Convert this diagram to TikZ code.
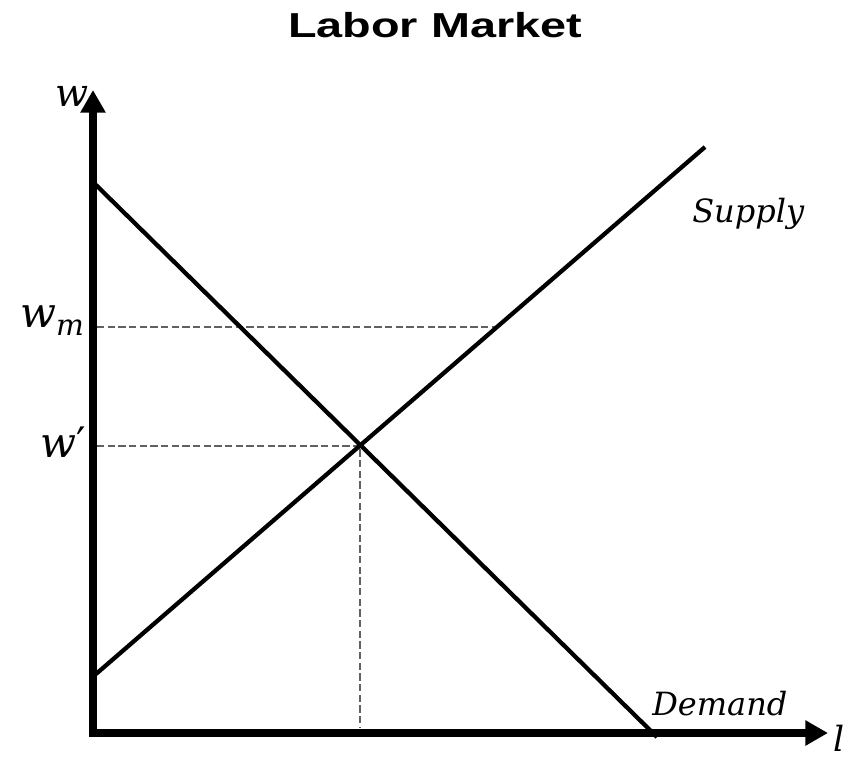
\documentclass[tikz,border=0pt]{standalone}
\usepackage{fontspec}
\usetikzlibrary{arrows.meta}
\newfontfamily\titlefont{Liberation Sans}
\newfontfamily\labelfont{DejaVu Serif}

\tikzset{
  axis/.style={line width=6pt, line join=miter, {Triangle[length=17pt,width=18pt]}-{Triangle[length=17pt,width=18pt]}},
  curveline/.style={line width=3.2pt},
  guide/.style={line width=1.5pt, black!62, dash pattern=on 5.5pt off 2.5pt},
  lbl/.style={anchor=base west, inner sep=0pt, font=\labelfont\itshape}
}

\begin{document}
\begin{tikzpicture}[x=0.75pt,y=0.75pt,yscale=-1,xscale=1]
\useasboundingbox (0,0) rectangle (866,759);

%Points
\coordinate (O) at (93,733);
\coordinate (ytop) at (93,90);
\coordinate (xend) at (828,733);
\coordinate (D1) at (96,185);
\coordinate (D2) at (657,737);
\coordinate (S1) at (96,674);
\coordinate (S2) at (705,147);
\coordinate (E) at (360,445.5);
\coordinate (M) at (497,327);
\coordinate (wmy) at (97,327);
\coordinate (wey) at (97,445.5);
\coordinate (Ex) at (360,728);

%Dashed guides
\draw [guide] (wmy) -- (M) ;
\draw [guide] (wey) -- (E) -- (Ex) ;
%Demand
\draw [curveline] (D1) -- (D2) ;
%Supply
\draw [curveline] (S1) -- (S2) ;
%Axes
\draw [axis] (ytop) -- (O) -- (xend) ;

% Text Node
\node (title) at (435,38) [anchor=base] {\scalebox{1.35}[1]{\titlefont\bfseries\fontsize{26}{28}\selectfont Labor Market}};
% Text Node
\node [lbl] (wlbl) at (55,107) {\fontsize{29}{30}\selectfont w};
% Text Node
\node [lbl] (wmlbl) at (20,327) {\fontsize{31.5}{32}\selectfont w\raisebox{-6pt}{\fontsize{22}{22}\selectfont m}};
% Text Node
\node [lbl] (welbl) at (40,457) {\fontsize{31.5}{32}\selectfont w{\upshape ′}};
% Text Node
\node [lbl] (llbl) at (833,751) {\fontsize{26}{27}\selectfont l};
% Text Node
\node [lbl] (suplbl) at (692,223) {\fontsize{24}{25}\selectfont Supply};
% Text Node
\node [lbl] (demlbl) at (652,715) {\fontsize{24}{25}\selectfont Demand};
\end{tikzpicture}
\end{document}
